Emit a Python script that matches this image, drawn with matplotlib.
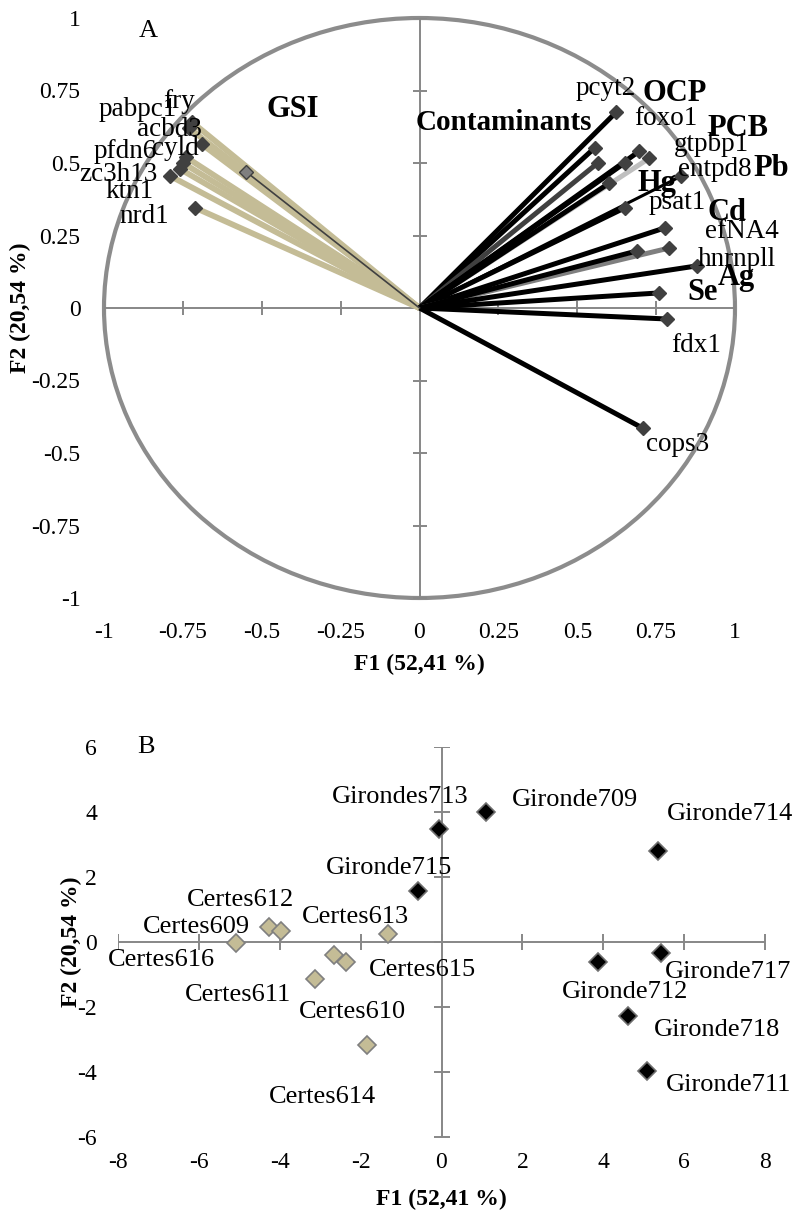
import matplotlib
matplotlib.use('Agg')
import matplotlib.pyplot as plt
from matplotlib.patches import Circle

plt.rcParams['font.family'] = ['Liberation Serif', 'DejaVu Serif']
plt.rcParams['axes.unicode_minus'] = False

# ---------------- Panel A data (correlation circle) ----------------
gsi_genes = ['pabpc1', 'fry', 'acbd3', 'pfdn6', 'cyld', 'zc3h13', 'ktn1', 'nrd1']
gsi_f1 = [-0.73, -0.72, -0.69, -0.75, -0.74, -0.79, -0.76, -0.71]
gsi_f2 = [0.62, 0.64, 0.565, 0.50, 0.52, 0.455, 0.48, 0.345]

gsi_var = 'GSI'
gsi_var_f1 = -0.55
gsi_var_f2 = 0.47

cont_vars = ['pcyt2', 'foxo1', 'OCP', 'PCB', 'gtpbp1', 'Pb', 'Hg', 'entpd8',
             'psat1', 'efNA4', 'Cd', 'Ag', 'hnrnpll', 'Se', 'fdx1', 'cops3']
cont_f1 = [0.624, 0.555, 0.565, 0.697, 0.729, 0.65, 0.602, 0.83,
           0.65, 0.777, 0.792, 0.69, 0.878, 0.76, 0.786, 0.707]
cont_f2 = [0.676, 0.552, 0.50, 0.541, 0.517, 0.50, 0.431, 0.455,
           0.345, 0.276, 0.207, 0.197, 0.145, 0.052, -0.038, -0.414]
cont_bold = ['OCP', 'PCB', 'Pb', 'Hg', 'Cd', 'Ag', 'Se']

a_ticks = [-1, -0.75, -0.5, -0.25, 0, 0.25, 0.5, 0.75, 1]
a_ticklabels = ['-1', '-0.75', '-0.5', '-0.25', '0', '0.25', '0.5', '0.75', '1']

# ---------------- Panel B data (individuals) ----------------
gironde_names = ['Girondes713', 'Gironde709', 'Gironde714', 'Gironde715',
                 'Gironde717', 'Gironde712', 'Gironde718', 'Gironde711']
gironde_f1 = [-0.07, 1.11, 5.35, -0.59, 5.44, 3.87, 4.62, 5.07]
gironde_f2 = [3.49, 4.0, 2.79, 1.56, -0.33, -0.60, -2.27, -3.98]

certes_names = ['Certes616', 'Certes609', 'Certes612', 'Certes613',
                'Certes610', 'Certes615', 'Certes611', 'Certes614']
certes_f1 = [-5.07, -4.27, -3.98, -1.33, -2.66, -2.35, -3.13, -1.85]
certes_f2 = [-0.04, 0.47, 0.34, 0.24, -0.40, -0.62, -1.13, -3.16]

b_xticks = [-8, -6, -4, -2, 0, 2, 4, 6, 8]
b_yticks = [-6, -4, -2, 0, 2, 4, 6]

# ---------------- layout / style ----------------
TAN = '#C4BC96'
AXC = '#878787'
MK = '#404040'

gsi_offsets = {'pabpc1': (-37.2, 13.8), 'fry': (-9.9, 15.4), 'acbd3': (-23.3, 10.9),
               'pfdn6': (-41.3, 8.6), 'cyld': (-7.6, 6.6), 'zc3h13': (-37.3, 1.4),
               'ktn1': (-36, -16), 'nrd1': (-36.7, -5.8)}
cont_offsets = {'pcyt2': (-8, 16.6), 'foxo1': (51, 21.5), 'OCP': (55.4, 49.7),
                'PCB': (70.6, 16.6), 'gtpbp1': (44.6, 10), 'Pb': (105.8, -3.6),
                'Hg': (34, 0), 'entpd8': (23.8, 5), 'psat1': (38, 3.6),
                'efNA4': (55.4, -2.2), 'Cd': (41.3, 25.2), 'Ag': (71.5, -19.4),
                'hnrnpll': (28.8, 5), 'Se': (31, 0), 'fdx1': (20.9, -19.4),
                'cops3': (25.2, -11.5)}
cont_colors = {'OCP': '#404040', 'gtpbp1': '#BFBFBF', 'Cd': '#7F7F7F',
               'entpd8': '#000000'}
cont_widths = {'entpd8': 2.2}

b_offsets = {'Girondes713': (-27.6, 22.5), 'Gironde709': (64, 8.4),
             'Gironde714': (52.3, 27), 'Gironde715': (-20.4, 16.6),
             'Gironde717': (48.2, -13.9), 'Gironde712': (19.7, -21.8),
             'Gironde718': (63.6, -10.1), 'Gironde711': (59, -9.6),
             'Certes616': (-54, -12), 'Certes609': (-52, 0),
             'Certes612': (-28.8, 22.3), 'Certes613': (-23.3, 12.5),
             'Certes615': (54.7, -5.8), 'Certes611': (-55.7, -11.5),
             'Certes610': (13.5, -41), 'Certes614': (-31.7, -37.4)}

fig = plt.figure(figsize=(7.95, 12.23), dpi=100)

# =============== Panel A ===============
axA = fig.add_axes([104 / 795, 1 - 598 / 1223, 631 / 795, 580 / 1223])
axA.set_xlim(-1, 1)
axA.set_ylim(-1, 1)
for s in axA.spines.values():
    s.set_visible(False)
axA.set_xticks(a_ticks)
axA.set_xticklabels(a_ticklabels)
axA.set_yticks(a_ticks)
axA.set_yticklabels(a_ticklabels)
axA.tick_params(length=0, labelsize=17, pad=17)
axA.tick_params(axis='y', pad=17)

axA.add_patch(Circle((0, 0), 1, fill=False, edgecolor='#8C8C8C', lw=3.0,
                     clip_on=False, zorder=1))
axA.axhline(0, color=AXC, lw=1.4, zorder=1)
axA.axvline(0, color=AXC, lw=1.4, zorder=1)
axA.plot(a_ticks, [0] * len(a_ticks), ls='none', marker='|', ms=10,
         mew=1.4, color=AXC, zorder=1)
axA.plot([0] * len(a_ticks), a_ticks, ls='none', marker='_', ms=10,
         mew=1.4, color=AXC, zorder=1)

for g, x, y in zip(gsi_genes, gsi_f1, gsi_f2):
    axA.plot([0, x], [0, y], color=TAN, lw=4.2, solid_capstyle='butt', zorder=2)
axA.plot([0, gsi_var_f1], [0, gsi_var_f2], color='#404040', lw=1.2, zorder=3)
axA.plot(gsi_f1, gsi_f2, ls='none', marker='D', ms=7, color=MK,
         mec=MK, zorder=4)
axA.plot([gsi_var_f1], [gsi_var_f2], ls='none', marker='D', ms=7,
         color='#7F7F7F', mec='#404040', zorder=4)

for v, x, y in zip(cont_vars, cont_f1, cont_f2):
    axA.plot([0, x], [0, y], color=cont_colors.get(v, '#000000'),
             lw=cont_widths.get(v, 3.6), solid_capstyle='butt', zorder=2)
axA.plot(cont_f1, cont_f2, ls='none', marker='D', ms=7, color=MK,
         mec=MK, zorder=4)

for g, x, y in zip(gsi_genes, gsi_f1, gsi_f2):
    axA.annotate(g, (x, y), xytext=gsi_offsets[g], textcoords='offset points',
                 ha='center', va='center', fontsize=19.5, zorder=5)
axA.annotate(gsi_var, (gsi_var_f1, gsi_var_f2), xytext=(33.5, 45),
             textcoords='offset points', ha='center', va='center',
             fontsize=22, fontweight='bold', zorder=5)
for v, x, y in zip(cont_vars, cont_f1, cont_f2):
    bold = v in cont_bold
    axA.annotate(v, (x, y), xytext=cont_offsets[v], textcoords='offset points',
                 ha='center', va='center', fontsize=22 if bold else 19.5,
                 fontweight='bold' if bold else 'normal', zorder=5,
                 annotation_clip=False)
axA.text(0.269, 0.638, 'Contaminants', ha='center', va='center', fontsize=21,
         fontweight='bold', zorder=5)
axA.text(-0.86, 0.955, 'A', ha='center', va='center', fontsize=19)
axA.set_xlabel('F1 (52,41 %)', fontsize=17, fontweight='bold', labelpad=8)
axA.set_ylabel('F2 (20,54 %)', fontsize=17, fontweight='bold', labelpad=0)

# =============== Panel B ===============
axB = fig.add_axes([118 / 795, 1 - 1137 / 1223, 647 / 795, 390 / 1223])
axB.set_xlim(-8, 8)
axB.set_ylim(-6, 6)
for s in axB.spines.values():
    s.set_visible(False)
axB.set_xticks(b_xticks)
axB.set_xticklabels([str(t) for t in b_xticks])
axB.set_yticks(b_yticks)
axB.set_yticklabels([str(t) for t in b_yticks])
axB.tick_params(length=0, labelsize=17, pad=11)
axB.tick_params(axis='y', pad=15)

axB.axhline(0, color=AXC, lw=1.4, zorder=1)
axB.axvline(0, color=AXC, lw=1.4, zorder=1)
axB.plot(b_xticks, [0] * len(b_xticks), ls='none', marker='|', ms=11,
         mew=1.4, color=AXC, zorder=1)
axB.plot([0] * len(b_yticks), b_yticks, ls='none', marker='_', ms=11,
         mew=1.4, color=AXC, zorder=1)

axB.plot(certes_f1, certes_f2, ls='none', marker='D', ms=9, color=TAN,
         mec='#7F7F7F', mew=1.2, zorder=3, clip_on=False)
axB.plot(gironde_f1, gironde_f2, ls='none', marker='D', ms=9, color='black',
         mec='#6F6F6F', mew=1.2, zorder=3, clip_on=False)

for n, x, y in list(zip(gironde_names, gironde_f1, gironde_f2)) + \
        list(zip(certes_names, certes_f1, certes_f2)):
    axB.annotate(n, (x, y), xytext=b_offsets[n], textcoords='offset points',
                 ha='center', va='center', fontsize=19, zorder=5,
                 annotation_clip=False)
axB.text(-7.3, 6.0, 'B', ha='center', va='center', fontsize=19)
axB.set_xlabel('F1 (52,41 %)', fontsize=17, fontweight='bold', labelpad=11)
axB.set_ylabel('F2 (20,54 %)', fontsize=17, fontweight='bold', labelpad=-3)

fig.savefig('out.png', dpi=100)
